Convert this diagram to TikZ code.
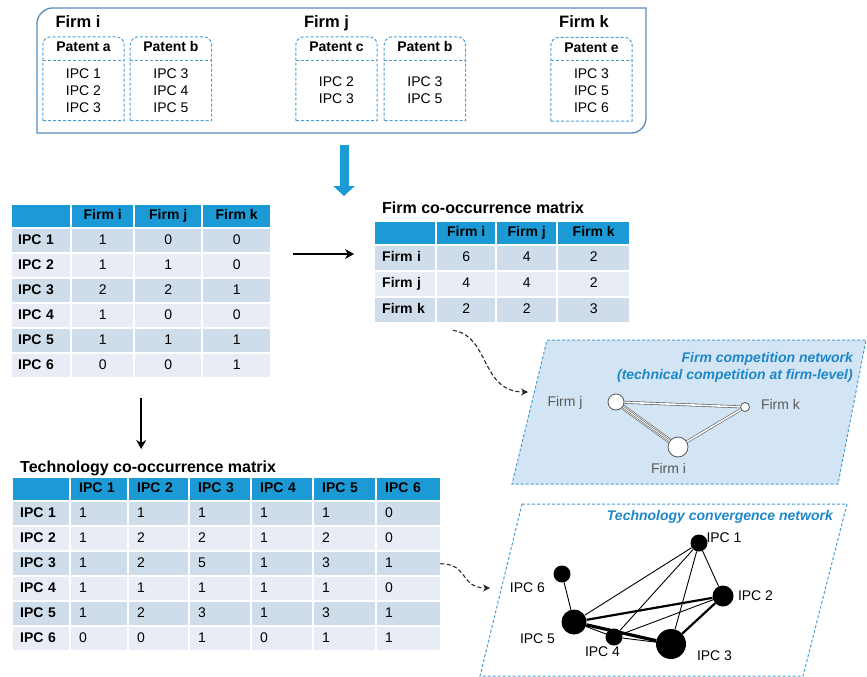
\documentclass[tikz,border=0pt]{standalone}
\usepackage{fontspec}
\setmainfont{Liberation Sans}
\usetikzlibrary{arrows.meta,positioning,matrix,calc}
\definecolor{HeadBlue}{HTML}{1B9AD6}
\definecolor{RowDark}{HTML}{CFDCEA}
\definecolor{RowLight}{HTML}{E8EDF5}
\definecolor{FrameBlue}{HTML}{5A8CBB}
\definecolor{DashBlue}{HTML}{4A9ED6}
\definecolor{NetFill}{HTML}{D3E5F4}
\definecolor{NetTitle}{HTML}{1E87C8}
\definecolor{EdgeGray}{HTML}{555555}
\definecolor{LabelGray}{HTML}{595959}
\tikzset{
  firmframe/.style={draw=FrameBlue,line width=1.3pt},
  firmtitle/.style={anchor=base,inner sep=0pt,font=\bfseries\fontsize{16.5}{18}\selectfont},
  patentline/.style={draw=DashBlue,line width=1pt,dash pattern=on 3pt off 2pt},
  patenthead/.style={minimum width=81pt,minimum height=23pt,inner sep=0pt,text height=10pt,text depth=3pt,font=\bfseries\fontsize{14}{16}\selectfont},
  patentbody/.style={minimum width=81pt,minimum height=60pt,inner sep=0pt,align=center,font=\fontsize{14}{17}\selectfont},
  datatable/.style={matrix of nodes,nodes in empty cells,inner sep=0pt,row sep=2pt,column sep=2pt,
    nodes={fill=RowLight,inner xsep=6pt,inner ysep=0pt,minimum height=23pt,text height=10pt,text depth=3pt,anchor=center,font=\fontsize{14}{16}\selectfont},
    every even row/.style={nodes={fill=RowDark}},
    row 1/.style={nodes={fill=HeadBlue,minimum height=22pt,font=\bfseries\fontsize{14}{16}\selectfont}},
    column 1/.style={nodes={align=left,font=\bfseries\fontsize{14}{16}\selectfont}}},
  tabletitle/.style={anchor=north west,inner sep=0pt,font=\bfseries\fontsize{16}{18}\selectfont},
  bigflow/.style={draw=HeadBlue,line width=9pt,-{Triangle[length=10pt,width=21pt]}},
  flowarrow/.style={draw=black,line width=1.8pt,-{Stealth[length=9pt,width=10pt,inset=3pt]}},
  hintarrow/.style={draw=black!85,line width=1.1pt,dash pattern=on 4pt off 2.5pt,-{Stealth[length=7pt,width=7pt,inset=2.5pt]}},
  netframe/.style={draw=DashBlue,line width=1pt,dash pattern=on 3pt off 2pt},
  nettitle/.style={anchor=north east,inner sep=0pt,align=right,text=NetTitle,font=\bfseries\itshape\fontsize{14}{17}\selectfont},
  firmdot/.style={circle,draw=EdgeGray,fill=white,line width=0.8pt,inner sep=0pt},
  firmlabel/.style={text=LabelGray,font=\fontsize{14}{16}\selectfont},
  tie2/.style={draw=EdgeGray,line width=0.6pt,double=white,double distance=1.6pt},
  tie4/.style={draw=EdgeGray,line width=0.6pt,double=white,double distance=3.6pt},
  tie4inner/.style={draw=EdgeGray,line width=0.6pt,double=white,double distance=0.9pt},
  techdot/.style={circle,fill=black,inner sep=0pt},
  techlabel/.style={font=\fontsize{14}{16}\selectfont},
  lightlink/.style={draw=black,line width=0.9pt},
  midlink/.style={draw=black,line width=2.2pt},
  heavylink/.style={draw=black,line width=3.2pt}
}

\begin{document}
\begin{tikzpicture}[x=1pt,y=-1pt]
\useasboundingbox (0,0) rectangle (867,677);

% firms and their patents
\draw[firmframe] (37,133) -- (37,23) .. controls (37,14.7) and (45.3,8) .. (52,8) -- (646,8) -- (646,118) .. controls (646,126.3) and (639.3,133) .. (631,133) -- cycle;
\node[firmtitle] (firmi) at (78,28) {Firm i};
\node[firmtitle] (firmj) at (326.5,28) {Firm j};
\node[firmtitle] (firmk) at (584,28) {Firm k};

\node[patenthead] (pa) at (83.5,48.5) {Patent a};
\node[patentbody,below=0pt of pa] (pa-body) {IPC 1\\IPC 2\\IPC 3};
\node[patenthead,right=6pt of pa] (pb) {Patent b};
\node[patentbody,below=0pt of pb] (pb-body) {IPC 3\\IPC 4\\IPC 5};
\node[patenthead] (pc) at (336.5,48.5) {Patent c};
\node[patentbody,below=0pt of pc] (pc-body) {IPC 2\\IPC 3};
\node[patenthead,right=7pt of pc] (pd) {Patent b};
\node[patentbody,below=0pt of pd] (pd-body) {IPC 3\\IPC 5};
\node[patenthead] (pe) at (591.5,49) {Patent e};
\node[patentbody,below=0pt of pe] (pe-body) {IPC 3\\IPC 5\\IPC 6};
\foreach \p in {pa,pb,pc,pd,pe}{
  \draw[patentline] (\p-body.south west) -- ($(\p.north west)+(0,8)$)
    .. controls ($(\p.north west)+(0,3.6)$) and ($(\p.north west)+(3.6,0)$) .. ($(\p.north west)+(8,0)$)
    -- ($(\p.north east)+(-8,0)$)
    .. controls ($(\p.north east)+(-3.6,0)$) and ($(\p.north east)+(0,3.6)$) .. ($(\p.north east)+(0,8)$)
    -- (\p-body.south east) -- cycle;
  \draw[patentline] (\p.south west) -- (\p.south east);
}

\coordinate (flowtop) at (344,145);
\coordinate (flowend) at (344,196);
\draw[bigflow] (flowtop) -- (flowend);

% IPC x firm table
\matrix[datatable,anchor=north west,
  column 1/.append style={nodes={text width=46pt}},
  column 2/.style={nodes={minimum width=61pt}},
  column 3/.style={nodes={minimum width=66pt}},
  column 4/.style={nodes={minimum width=67pt}}] (ipcfirm) at (12,205) {
        & Firm i & Firm j & Firm k \\
  IPC 1 & 1 & 0 & 0 \\
  IPC 2 & 1 & 1 & 0 \\
  IPC 3 & 2 & 2 & 1 \\
  IPC 4 & 1 & 0 & 0 \\
  IPC 5 & 1 & 1 & 1 \\
  IPC 6 & 0 & 0 & 1 \\
};

% firm co-occurrence
\matrix[datatable,anchor=north west,nodes={minimum height=24pt},
  column 1/.append style={nodes={text width=46pt,inner xsep=7pt}},
  column 2/.style={nodes={minimum width=58pt}},
  column 3/.style={nodes={minimum width=59pt}},
  column 4/.style={nodes={minimum width=71pt}}] (firmmat) at (375,222) {
         & Firm i & Firm j & Firm k \\
  Firm i & 6 & 4 & 2 \\
  Firm j & 4 & 4 & 2 \\
  Firm k & 2 & 2 & 3 \\
};
\node[tabletitle] (firmmattitle) at ($(firmmat.north west)+(7,-20.5)$) {Firm co-occurrence matrix};

% technology co-occurrence
\matrix[datatable,anchor=north west,nodes={align=left,inner xsep=8pt},
  column 1/.append style={nodes={text width=42pt,inner xsep=7pt}},
  column 2/.style={nodes={text width=40pt}},
  column 3/.style={nodes={text width=43pt}},
  column 4/.style={nodes={text width=44pt}},
  column 5/.style={nodes={text width=44pt}},
  column 6/.style={nodes={text width=45pt}},
  column 7/.style={nodes={text width=47pt}}] (techmat) at (13,478) {
        & IPC 1 & IPC 2 & IPC 3 & IPC 4 & IPC 5 & IPC 6 \\
  IPC 1 & 1 & 1 & 1 & 1 & 1 & 0 \\
  IPC 2 & 1 & 2 & 2 & 1 & 2 & 0 \\
  IPC 3 & 1 & 2 & 5 & 1 & 3 & 1 \\
  IPC 4 & 1 & 1 & 1 & 1 & 1 & 0 \\
  IPC 5 & 1 & 2 & 3 & 1 & 3 & 1 \\
  IPC 6 & 0 & 0 & 1 & 0 & 1 & 1 \\
};
\node[tabletitle] (techmattitle) at ($(techmat.north west)+(7,-17)$) {Technology co-occurrence matrix};

\draw[flowarrow] ($(ipcfirm-3-4.north east)+(23,0)$) -- ($(firmmat.west |- ipcfirm-3-4.north east)+(-21,0)$);
\draw[flowarrow] ($(ipcfirm.south)+(0,21)$) -- ($(ipcfirm.south |- techmattitle.north)+(0,-12)$);

% firm competition network
\draw[netframe,fill=NetFill] (547,340) -- (866,340) -- (838,484) -- (512,484) -- cycle;
\node[nettitle] (firmnettitle) at (853,352.5) {Firm competition network\\(technical competition at firm-level)};
\node[firmdot,minimum size=16pt] (fj) at (616,402) {};
\node[firmdot,minimum size=9pt] (fk) at (745,407) {};
\node[firmdot,minimum size=20pt] (fi) at (678,447) {};
\node[firmlabel] at ($(fj)+(-51,1)$) {Firm j};
\node[firmlabel] at ($(fk)+(35.5,-3)$) {Firm k};
\node[firmlabel] at ($(fi)+(-9.5,21)$) {Firm i};
\draw[tie2] (fj) -- (fk);
\draw[tie4] (fj) -- (fi);
\draw[tie4inner] (fj) -- (fi);
\draw[tie2] (fi) -- (fk);

\coordinate (firmnetin) at (528,392);
\draw[hintarrow] ($(firmmat.south west)+(78,8)$) .. controls +(37,5) and +(-48,0) .. (firmnetin);

% technology convergence network
\draw[netframe] (522,504) -- (847,504) -- (803,676) -- (480,676) -- cycle;
\node[nettitle] (technettitle) at (833,510.5) {Technology convergence network};
\node[techdot,minimum size=17pt] (t1) at (699,543) {};
\node[techdot,minimum size=21pt] (t2) at (723,596) {};
\node[techdot,minimum size=30pt] (t3) at (671,644) {};
\node[techdot,minimum size=17pt] (t4) at (614,637) {};
\node[techdot,minimum size=25pt] (t5) at (574,622) {};
\node[techdot,minimum size=17pt] (t6) at (562,574) {};
\node[techlabel] at ($(t1)+(25,-5)$) {IPC 1};
\node[techlabel] at ($(t2)+(32.5,0)$) {IPC 2};
\node[techlabel] at ($(t3)+(43.5,12)$) {IPC 3};
\node[techlabel] at ($(t4)+(-11.5,15)$) {IPC 4};
\node[techlabel] at ($(t5)+(-36.5,17)$) {IPC 5};
\node[techlabel] at ($(t6)+(-34.5,14)$) {IPC 6};
\draw[lightlink] (t1) -- (t2);
\draw[lightlink] (t1) -- (t3);
\draw[lightlink] (t1) -- (t4);
\draw[lightlink] (t1) -- (t5);
\draw[midlink] (t2) -- (t3);
\draw[lightlink] (t2) -- (t4);
\draw[midlink] (t2) -- (t5);
\draw[lightlink] (t3) -- (t4);
\draw[heavylink] (t3) -- (t5);
\draw[lightlink] (t4) -- (t5);
\draw[lightlink] (t5) -- (t6);

\coordinate (technetin) at (490,588);
\draw[hintarrow] (techmat-4-7.east) .. controls +(28,0) and +(-30,0) .. (technetin);
\end{tikzpicture}
\end{document}
